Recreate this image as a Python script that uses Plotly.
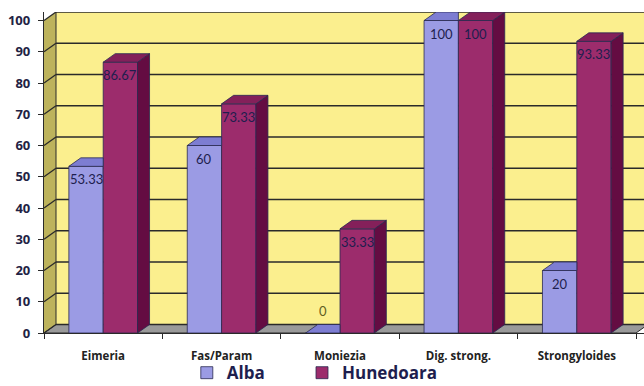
import plotly.graph_objects as go

categories = ["Eimeria", "Fas/Param", "Moniezia", "Dig. strong.", "Strongyloides"]
alba = [53.33, 60, 0, 100, 20]
hunedoara = [86.67, 73.33, 33.33, 100, 93.33]
alba_labels = ["53.33", "60", "0", "100", "20"]
hun_labels = ["86.67", "73.33", "33.33", "100", "93.33"]
y_ticks = list(range(0, 101, 10))

# styling
W, H = 644, 386
ML, MR, MT, MB = 44, 0, 12, 53
n = len(categories)
x_left = -0.5
x_front_right = n - 0.5
px_per_x = 118.4
x_max = x_left + (W - ML - MR) / px_per_x
DX = 12 / px_per_x
y_top = 102.72
px_per_y = (H - MT - MB) / y_top
DY = 8.5 / px_per_y
BW = 0.29

C_ALBA = "#9b9be4"
C_ALBA_TOP = "#7d7dd2"
C_HUN = "#9c2c6c"
C_HUN_TOP = "#84205a"
C_HUN_SIDE = "#640c42"
C_WALL = "#fbef8e"
C_SIDE = "#bdb35c"
C_FLOOR = "#9a9a9a"
C_LINE = "#2a2a2a"
C_EDGE = "#2a2a50"
C_TEXT = "#1e1e4e"
FONT = "Lato"
FONT2 = "Open Sans"

x_pos = list(range(n))

fig = go.Figure()
fig.add_trace(go.Bar(x=x_pos, y=alba, name="Alba", width=BW, offset=-BW,
                     legend="legend",
                     marker=dict(color=C_ALBA, line=dict(color=C_EDGE, width=0.8))))
fig.add_trace(go.Bar(x=x_pos, y=hunedoara, name="Hunedoara", width=BW, offset=0,
                     legend="legend2",
                     marker=dict(color=C_HUN, line=dict(color=C_EDGE, width=0.8))))

shapes = []

def poly(pts, fill, layer, lw=0.8, lc=C_LINE):
    path = "M " + " L ".join(f"{x},{y}" for x, y in pts) + " Z"
    return dict(type="path", path=path, xref="x", yref="y", fillcolor=fill,
                line=dict(color=lc, width=lw), layer=layer)

# back wall
shapes.append(poly([(x_left + DX, DY), (x_max + 1, DY), (x_max + 1, 100 + DY),
                    (x_left + DX, 100 + DY)], C_WALL, "below", 0))
# side wall
shapes.append(poly([(x_left, 0), (x_left + DX, DY), (x_left + DX, 100 + DY),
                    (x_left, 100)], C_SIDE, "below", 0))
# floor
shapes.append(poly([(x_left, 0), (x_front_right, 0), (x_front_right + DX, DY),
                    (x_left + DX, DY)], C_FLOOR, "below", 1, C_LINE))
# gridlines
for v in y_ticks:
    shapes.append(dict(type="line", xref="x", yref="y", x0=x_left, y0=v,
                       x1=x_left + DX, y1=v + DY, line=dict(color=C_LINE, width=1.3),
                       layer="below"))
    shapes.append(dict(type="line", xref="x", yref="y", x0=x_left + DX, y0=v + DY,
                       x1=x_max + 1, y1=v + DY, line=dict(color=C_LINE, width=1.3),
                       layer="below"))
shapes.append(dict(type="line", xref="x", yref="y", x0=x_left + DX, y0=DY,
                   x1=x_left + DX, y1=100 + DY, line=dict(color=C_LINE, width=1),
                   layer="below"))

# bar 3D faces
for i in range(n):
    a, h = alba[i], hunedoara[i]
    ax0, ax1 = i - BW, i
    hx0, hx1 = i, i + BW
    if h >= a:
        shapes.append(poly([(ax0, a), (ax1, a), (ax1, a + DY), (ax0 + DX, a + DY)],
                           C_ALBA_TOP, "above", 0.8, C_EDGE))
    else:
        shapes.append(poly([(ax0, a), (ax1, a), (ax1 + DX, a + DY), (ax0 + DX, a + DY)],
                           C_ALBA_TOP, "above", 0.8, C_EDGE))
    shapes.append(poly([(hx1, 0), (hx1 + DX, DY), (hx1 + DX, h + DY), (hx1, h)],
                       C_HUN_SIDE, "above", 0.8, C_EDGE))
    shapes.append(poly([(hx0, h), (hx1, h), (hx1 + DX, h + DY), (hx0 + DX, h + DY)],
                       C_HUN_TOP, "above", 0.8, C_EDGE))

annotations = []
for i in range(n):
    for val, lab, xc in ((alba[i], alba_labels[i], i - BW / 2),
                         (hunedoara[i], hun_labels[i], i + BW / 2)):
        low = val < 5
        annotations.append(dict(x=xc, y=val, xref="x", yref="y", text=lab,
                                showarrow=False, yshift=22 if low else -13,
                                font=dict(family=FONT, size=13,
                                          color="#5e5e22" if low else C_TEXT)))

legend_style = dict(orientation="h", xanchor="left", y=-0.125, yanchor="middle",
                    font=dict(family=FONT2, size=17, color=C_TEXT, weight="bold"),
                    itemwidth=30, bgcolor="rgba(0,0,0,0)")

fig.update_layout(
    width=W, height=H,
    margin=dict(l=ML, r=MR, t=MT, b=MB, autoexpand=False),
    paper_bgcolor="white", plot_bgcolor="white",
    barmode="overlay",
    shapes=shapes, annotations=annotations,
    showlegend=True,
    legend=dict(x=0.238, **legend_style),
    legend2=dict(x=0.430, **legend_style),
    xaxis=dict(range=[x_left, x_max], tickvals=x_pos, ticktext=categories,
               showgrid=False, zeroline=False, showline=True, linecolor=C_LINE,
               linewidth=1.3, ticks="", ticklabelstandoff=12, automargin=False,
               tickfont=dict(family=FONT2, size=11.5, color="#222222", weight="bold"),
               minor=dict(tickmode="linear", tick0=-0.5, dtick=1, ticks="outside",
                          ticklen=5, tickcolor=C_LINE, tickwidth=1.3, showgrid=False)),
    yaxis=dict(range=[0, y_top], tickvals=y_ticks, showgrid=False, zeroline=False,
               showline=True, linecolor=C_LINE, linewidth=1.3, ticks="outside",
               ticklen=5, tickcolor=C_LINE, tickwidth=1.3, ticklabelstandoff=5,
               automargin=False,
               tickfont=dict(family=FONT2, size=13, color="#222244", weight="bold")),
)

fig.write_html("out.html")
